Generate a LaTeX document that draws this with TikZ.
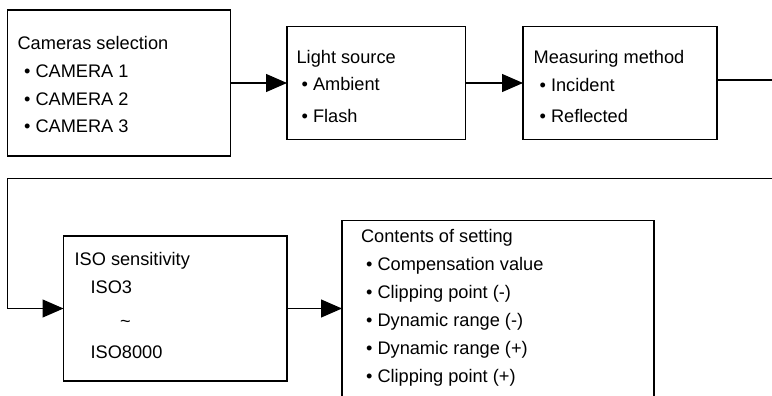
\documentclass[tikz,border=0pt]{standalone}
\usepackage{fontspec}
\setmainfont{Liberation Sans}
\usetikzlibrary{arrows.meta}
\begin{document}
\begin{tikzpicture}[x=1pt,y=-1pt,line width=1.2pt,
  box/.style={draw,rectangle,anchor=north west,inner sep=0pt,outer sep=0pt},
  txt/.style={anchor=base west,inner sep=0pt,font=\fontsize{18.2}{22}\selectfont},
  arr/.style={-{Triangle[length=21pt,width=18pt]}}]
\useasboundingbox (0,0) rectangle (772,396);
\clip (0,0) rectangle (772,396);
% boxes
\node[box,minimum width=223pt,minimum height=146pt] (b1) at (7.5,10) {};
\node[box,minimum width=178.5pt,minimum height=113pt] (b2) at (287,26.5) {};
\node[box,minimum width=194pt,minimum height=113pt] (b3) at (523,26.5) {};
\node[box,minimum width=223.5pt,minimum height=145pt] (b4) at (63.5,236) {};
\node[box,minimum width=312pt,minimum height=200pt] (b5) at (342,220.5) {};
% box 1 text
\node[txt] (t1) at (17,49.5) {Cameras selection};
\node[txt] (t1a) at (23.5,77.5) {• CAMERA 1};
\node[txt] (t1b) at (23.5,105.5) {• CAMERA 2};
\node[txt] (t1c) at (23.5,132.5) {• CAMERA 3};
% box 2 text
\node[txt] (t2) at (296,63.5) {Light source};
\node[txt] (t2a) at (301,90.5) {• Ambient};
\node[txt] (t2b) at (301,122) {• Flash};
% box 3 text
\node[txt] (t3) at (533,63.5) {Measuring method};
\node[txt] (t3a) at (539,92) {• Incident};
\node[txt] (t3b) at (539,123) {• Reflected};
% box 4 text
\node[txt] (t4) at (74,265.5) {ISO sensitivity};
\node[txt] (t4a) at (90,293.5) {ISO3};
\node[txt] (t4b) at (119.5,327.8) {\textasciitilde};
\node[txt] (t4c) at (90,358.5) {ISO8000};
% box 5 text
\node[txt] (t5) at (360.5,242.5) {Contents of setting};
\node[txt] (t5a) at (365.5,270.5) {• Compensation value};
\node[txt] (t5b) at (365.5,298.5) {• Clipping point (-)};
\node[txt] (t5c) at (365.5,326.5) {• Dynamic range (-)};
\node[txt] (t5d) at (365.5,354.5) {• Dynamic range (+)};
\node[txt] (t5e) at (365.5,382.5) {• Clipping point (+)};
% connectors
\coordinate (r1) at (785,80);
\coordinate (r2) at (785,178.5);
\coordinate (l2) at (7.3,178.5);
\draw[arr] (b1.east) -- (b2.west);
\draw[arr] (b2.east) -- (b3.west);
\draw (r1 -| b3.east) -- (r1);
\draw[arr] (r2) -- (l2) |- (b4.west);
\draw[arr] (b4.east) -- (b4.east -| b5.west);
\end{tikzpicture}
\end{document}
